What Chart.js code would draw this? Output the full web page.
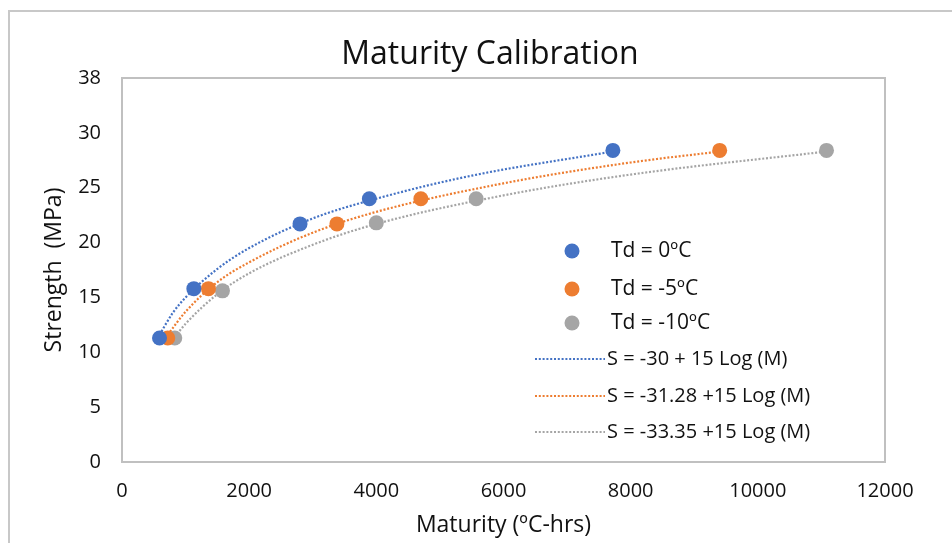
<!DOCTYPE html>
<html>
<head>
<meta charset="utf-8">
<title>Maturity Calibration</title>
<script src="https://cdn.jsdelivr.net/npm/chart.js@4.4.1/dist/chart.umd.min.js"></script>
<style>
    html, body { margin: 0; padding: 0; background: #fff; }
    #maturity-chart { display: block; }
</style>
</head>
<body>
<canvas id="maturity-chart" width="952" height="543"></canvas>
<script>
// Datos (Madurez en ºC-hrs, Resistencia en MPa)
const maturityTd0 = [590, 1130, 2800, 3890, 7720];
const strengthTd0 = [11.3, 15.8, 21.7, 24.0, 28.4];
const maturityTd5 = [720, 1360, 3380, 4700, 9400];
const strengthTd5 = [11.3, 15.8, 21.7, 24.0, 28.4];
const maturityTd10 = [830, 1580, 4000, 5570, 11080];
const strengthTd10 = [11.3, 15.6, 21.8, 24.0, 28.4];

// Líneas de tendencia (puntos leídos sobre las curvas punteadas)
const trendM0 = [590, 800, 1000, 1500, 2000, 3000, 4000, 5500, 7720];
const trendS0 = [11.6, 13.6, 15.0, 17.6, 19.5, 22.2, 24.0, 26.1, 28.3];
const trendM5 = [720, 1000, 1500, 2000, 3000, 4000, 6000, 8000, 9400];
const trendS5 = [11.6, 13.7, 16.4, 18.2, 20.9, 22.8, 25.4, 27.3, 28.3];
const trendM10 = [830, 1000, 1500, 2000, 3000, 4000, 6000, 8000, 11080];
const trendS10 = [11.4, 12.6, 15.3, 17.2, 19.8, 21.7, 24.3, 26.2, 28.3];

const seriesLabels = ["Td = 0ºC", "Td = -5ºC", "Td = -10ºC"];
const trendLabels = [
    "S = -30 + 15 Log (M)",
    "S = -31.28 +15 Log (M)",
    "S = -33.35 +15 Log (M)",
];
const yTickLabels = ["0", "5", "10", "15", "20", "25", "30", "38"];

const colors = ["#4472C4", "#ED7D31", "#A5A5A5"];
const FONT = "'Open Sans', 'DejaVu Sans', sans-serif";
const TEXT = "#111111";

function toPoints(xs, ys) {
    return xs.map((x, i) => ({ x: x, y: ys[i] }));
}

function pointSet(label, xs, ys, color) {
    return {
        type: "scatter",
        label: label,
        data: toPoints(xs, ys),
        backgroundColor: color,
        borderColor: color,
        borderWidth: 0,
        pointRadius: 7.5,
        pointHoverRadius: 7.5,
        showLine: false,
    };
}

function trendSet(label, xs, ys, color) {
    return {
        type: "line",
        label: label,
        data: toPoints(xs, ys),
        borderColor: color,
        borderWidth: 2.2,
        borderDash: [2, 1.8],
        pointRadius: 0,
        fill: false,
        cubicInterpolationMode: "monotone",
    };
}

// Marco, título y leyenda dibujados a mano
const decorPlugin = {
    id: "decor",
    beforeDraw(chart) {
        const ctx = chart.ctx;
        ctx.save();
        ctx.fillStyle = "#ffffff";
        ctx.fillRect(0, 0, chart.width, chart.height);
        ctx.strokeStyle = "#c8c8c8";
        ctx.lineWidth = 2;
        ctx.beginPath();
        ctx.moveTo(9, chart.height);
        ctx.lineTo(9, 11);
        ctx.lineTo(chart.width, 11);
        ctx.stroke();
        ctx.restore();
    },
    beforeDatasetsDraw(chart) {
        const a = chart.chartArea;
        const ctx = chart.ctx;
        ctx.save();
        ctx.strokeStyle = "#c0c0c0";
        ctx.lineWidth = 2;
        ctx.strokeRect(a.left, a.top, a.right - a.left, a.bottom - a.top);
        ctx.restore();
    },
    afterDraw(chart) {
        const ctx = chart.ctx;
        ctx.save();
        ctx.fillStyle = TEXT;
        ctx.font = "32px " + FONT;
        ctx.textAlign = "center";
        ctx.textBaseline = "alphabetic";
        ctx.fillText("Maturity Calibration", 490, 64);

        // Leyenda
        ctx.textAlign = "left";
        ctx.textBaseline = "middle";
        ctx.font = "21px " + FONT;
        const rowsPts = [251, 289, 323];
        seriesLabels.forEach((lab, i) => {
            ctx.fillStyle = colors[i];
            ctx.beginPath();
            ctx.arc(572, rowsPts[i], 7.5, 0, Math.PI * 2);
            ctx.fill();
            ctx.fillStyle = TEXT;
            ctx.fillText(lab, 611, rowsPts[i]);
        });
        const rowsLines = [359, 396, 432];
        ctx.font = "20px " + FONT;
        trendLabels.forEach((lab, i) => {
            ctx.strokeStyle = colors[i];
            ctx.lineWidth = 2.2;
            ctx.setLineDash([2, 1.8]);
            ctx.beginPath();
            ctx.moveTo(535, rowsLines[i]);
            ctx.lineTo(605, rowsLines[i]);
            ctx.stroke();
            ctx.setLineDash([]);
            ctx.fillStyle = TEXT;
            ctx.fillText(lab, 607, rowsLines[i]);
        });
        ctx.restore();
    },
};

const ctx = document.getElementById("maturity-chart").getContext("2d");
new Chart(ctx, {
    type: "scatter",
    data: {
        datasets: [
            pointSet(seriesLabels[0], maturityTd0, strengthTd0, colors[0]),
            pointSet(seriesLabels[1], maturityTd5, strengthTd5, colors[1]),
            pointSet(seriesLabels[2], maturityTd10, strengthTd10, colors[2]),
            trendSet(trendLabels[0], trendM0, trendS0, colors[0]),
            trendSet(trendLabels[1], trendM5, trendS5, colors[1]),
            trendSet(trendLabels[2], trendM10, trendS10, colors[2]),
        ],
    },
    options: {
        responsive: false,
        animation: false,
        devicePixelRatio: 1,
        layout: { padding: { top: 78, right: 67, left: 0, bottom: 0 } },
        plugins: {
            legend: { display: false },
            title: { display: false },
            tooltip: { enabled: false },
        },
        scales: {
            x: {
                type: "linear",
                min: 0,
                max: 12000,
                ticks: {
                    stepSize: 2000,
                    padding: 17,
                    color: TEXT,
                    font: { family: FONT, size: 20 },
                    maxRotation: 0,
                    callback: (v) => String(v),
                },
                grid: { display: false, drawTicks: false },
                border: { display: false },
                title: {
                    display: true,
                    text: "Maturity (ºC-hrs)",
                    color: TEXT,
                    font: { family: FONT, size: 23 },
                    padding: { top: 0, bottom: 4 },
                },
                afterFit(scale) { scale.height = 81; },
            },
            y: {
                type: "linear",
                min: 0,
                max: 35,
                ticks: {
                    stepSize: 5,
                    padding: 21,
                    color: TEXT,
                    font: { family: FONT, size: 20 },
                    callback: (v, i) => yTickLabels[i],
                },
                grid: { display: false, drawTicks: false },
                border: { display: false },
                title: {
                    display: true,
                    text: "Strength  (MPa)",
                    color: TEXT,
                    font: { family: FONT, size: 23 },
                    padding: { top: 41, bottom: 0 },
                },
                afterFit(scale) { scale.width = 122; },
            },
        },
    },
    plugins: [decorPlugin],
});
</script>
</body>
</html>
